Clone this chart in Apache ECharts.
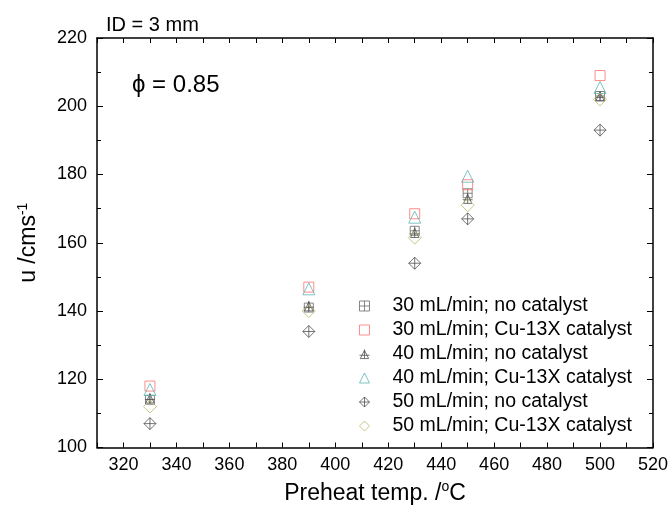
<!DOCTYPE html>
<html>
<head>
<meta charset="UTF-8">
<title>u vs preheat temp</title>
<script src="https://cdn.jsdelivr.net/npm/echarts@6/dist/echarts.min.js"></script>
<style>
  html, body { margin: 0; padding: 0; background: #fff; }
  #main { width: 671px; height: 510px; }
</style>
</head>
<body>
<div id="main"></div>
<script>
// preheat temperatures (°C)
var temps = [330, 390, 430, 450, 500];

// flame speed u (cm/s)
var s30none = [114, 141, 163.5, 174.5, 203];
var s30cat  = [118, 147, 168.5, 177, 209];
var s40none = [114.5, 141.5, 163, 173, 203];
var s40cat  = [117, 146.5, 167.5, 179.5, 205.5];
var s50none = [107, 134, 154, 167, 193];
var s50cat  = [112, 140, 161.5, 171, 202];

var names = [
    '30 mL/min; no catalyst',
    '30 mL/min; Cu-13X catalyst',
    '40 mL/min; no catalyst',
    '40 mL/min; Cu-13X catalyst',
    '50 mL/min; no catalyst',
    '50 mL/min; Cu-13X catalyst'
];

// hollow markers, some with a cross drawn through them
var SQ_X = 'path://M0,0H10V10H0Z M5,0V10 M0,5H10';
var SQ = 'rect';
var TRI_X = 'path://M5,0L10,10H0Z M5,-1V10 M-1,6H11';
var TRI = 'triangle';
var DIA_X = 'path://M5,0L10,5L5,10L0,5Z M5,0V10 M0,5H10';
var DIA = 'diamond';

function pairs(ys) {
    return temps.map(function (t, i) { return [t, ys[i]]; });
}

function mk(name, ys, symbol, color, size) {
    return {
        name: name,
        type: 'scatter',
        data: pairs(ys),
        symbol: symbol,
        symbolSize: size,
        itemStyle: {
            color: 'rgba(255,255,255,0)',
            borderColor: color,
            borderWidth: 1
        }
    };
}

var font = 'Liberation Sans, Arial, sans-serif';
var chart = echarts.init(document.getElementById('main'));

chart.setOption({
    animation: false,
    textStyle: { fontFamily: font },
    title: [
        { text: 'ID = 3 mm', left: 101, top: 10,
          textStyle: { fontSize: 20, fontWeight: 'normal', color: '#000', fontFamily: font } },
        { text: '\u03d5 = 0.85', left: 127, top: 68,
          textStyle: { fontSize: 24, fontWeight: 'normal', color: '#000', fontFamily: font } }
    ],
    grid: { left: 97, right: 18, top: 38, bottom: 61 },
    legend: {
        orient: 'vertical',
        right: 34,
        top: 291,
        itemWidth: 10,
        itemHeight: 10,
        itemGap: 4,
        itemStyle: { color: 'rgba(255,255,255,0)', borderWidth: 1 },
        textStyle: { fontSize: 19.5, lineHeight: 20, color: '#000', fontFamily: font,
                     padding: [0, 0, 0, 18] },
        data: names
    },
    xAxis: [{
        type: 'value',
        min: 310, max: 520, interval: 10,
        name: 'Preheat temp. /{sup|o}C',
        nameLocation: 'middle',
        nameGap: 33,
        nameTextStyle: {
            fontSize: 23, color: '#000', fontFamily: font,
            rich: { sup: { fontSize: 14, verticalAlign: 'top', padding: [0, 0, 12, 0] } }
        },
        axisLine: { lineStyle: { color: '#000', width: 1.5 } },
        axisTick: { inside: true, length: 5, lineStyle: { color: '#000' } },
        axisLabel: {
            fontSize: 18, color: '#000', margin: 9,
            formatter: function (v) { return v % 20 === 0 ? String(v) : ''; }
        },
        splitLine: { show: false }
    }, {
        type: 'value', position: 'top',
        min: 310, max: 520, interval: 10,
        axisLine: { lineStyle: { color: '#000', width: 1.5 } },
        axisTick: { inside: true, length: 5, lineStyle: { color: '#000' } },
        axisLabel: { show: false },
        splitLine: { show: false }
    }],
    yAxis: [{
        type: 'value',
        min: 100, max: 220, interval: 20,
        name: 'u /cms{sup|-1}',
        nameLocation: 'middle',
        nameGap: 55,
        nameTextStyle: {
            fontSize: 23, color: '#000', fontFamily: font,
            rich: { sup: { fontSize: 14, verticalAlign: 'top', padding: [0, 0, 12, 0] } }
        },
        axisLine: { show: true, lineStyle: { color: '#000', width: 1.5 } },
        axisTick: { show: true, inside: true, length: 6, lineStyle: { color: '#000' } },
        minorTick: { show: true, splitNumber: 2, length: 4, lineStyle: { color: '#000' } },
        axisLabel: { fontSize: 18, color: '#000', margin: 10 },
        splitLine: { show: false }
    }, {
        type: 'value', position: 'right',
        min: 100, max: 220, interval: 20,
        axisLine: { show: true, lineStyle: { color: '#000', width: 1.5 } },
        axisTick: { show: true, inside: true, length: 6, lineStyle: { color: '#000' } },
        minorTick: { show: true, splitNumber: 2, length: 4, lineStyle: { color: '#000' } },
        axisLabel: { show: false },
        splitLine: { show: false }
    }],
    series: [
        mk(names[0], s30none, SQ_X, '#6a6a6a', 9),
        mk(names[1], s30cat, SQ, '#ff7070', 10),
        mk(names[2], s40none, TRI_X, '#505050', 10),
        mk(names[3], s40cat, TRI, '#5fb3b3', 12),
        mk(names[4], s50none, DIA_X, '#505050', 12),
        mk(names[5], s50cat, DIA, '#b8b86c', 13)
    ]
});
</script>
</body>
</html>
